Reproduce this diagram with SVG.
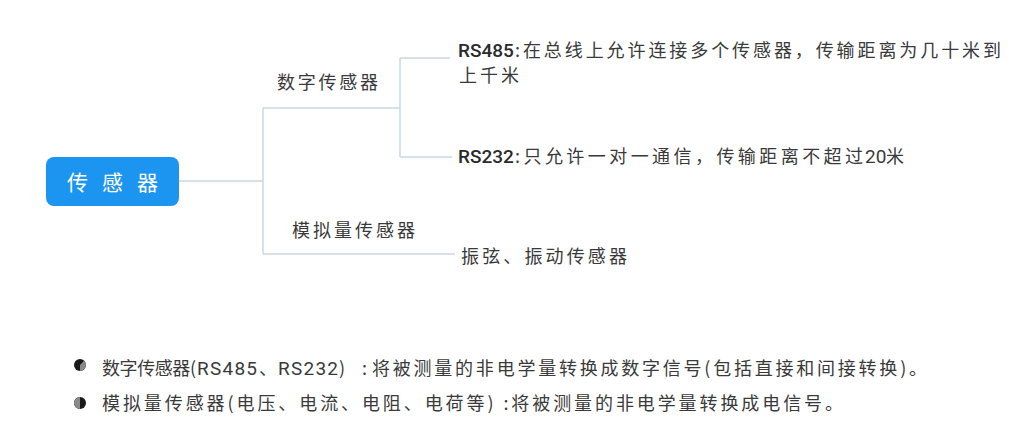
<svg xmlns="http://www.w3.org/2000/svg" width="1024" height="440" viewBox="0 0 1024 440">
<style>
.cn{font-family:"Noto Sans CJK SC","Liberation Sans",sans-serif;fill:#3a3a3a;font-size:18px;}
.lat{font-family:Roboto,"Liberation Sans","Noto Sans CJK SC",sans-serif;fill:#2a2a2a;font-weight:500;font-size:19px;}
.latn{font-family:Roboto,"Liberation Sans","Noto Sans CJK SC",sans-serif;fill:#3a3a3a;font-size:19px;}
.conn{fill:none;stroke:#c9d7e2;stroke-width:1.5;}
</style>
<rect x="0" y="0" width="1024" height="440" fill="#ffffff"/>
<g id="connectors">
<path class="conn" d="M179,181 H263"/>
<path class="conn" d="M263,108 V254"/>
<path class="conn" d="M263,108 H400"/>
<path class="conn" d="M400,58 V157"/>
<path class="conn" d="M400,58 H450"/>
<path class="conn" d="M400,157 H452"/>
<path class="conn" d="M263,254 H455"/>
</g>
<g id="root">
<rect x="46" y="157" width="133" height="49" rx="8" fill="#1c95f0"/>
<text x="67" y="190" font-family="'Noto Sans CJK SC',sans-serif" font-size="21" fill="#ffffff" textLength="91" lengthAdjust="spacing">传感器</text>
</g>
<g id="digital">
<text class="cn" x="277" y="89" textLength="101" lengthAdjust="spacing">数字传感器</text>
</g>
<g id="rs485">
<text class="lat" x="458" y="57">RS485</text>
<text class="cn" x="515" y="57" textLength="486" lengthAdjust="spacing">:在总线上允许连接多个传感器，传输距离为几十米到</text>
<text class="cn" x="459" y="82" textLength="60" lengthAdjust="spacing">上千米</text>
</g>
<g id="rs232">
<text class="lat" x="458" y="163">RS232</text>
<text class="cn" x="515" y="163" textLength="348" lengthAdjust="spacing">:只允许一对一通信，传输距离不超过</text>
<text class="latn" x="865" y="163">20</text>
<text class="cn" x="886" y="163">米</text>
</g>
<g id="analog">
<text class="cn" x="292" y="237" textLength="123" lengthAdjust="spacing">模拟量传感器</text>
</g>
<g id="vibration">
<text class="cn" x="461" y="263" textLength="166" lengthAdjust="spacing">振弦、振动传感器</text>
</g>
<g id="notes">
<circle cx="80" cy="365" r="6" fill="#1a1a1a"/>
<path d="M80,365 L84.2,360.8 A6,6 0 0 1 80,371 Z" fill="#8a8a8a"/>
<circle cx="80" cy="403" r="6" fill="#1a1a1a"/>
<path d="M80,397 A6,6 0 0 0 80,409 Z" fill="#8a8a8a"/>
<text class="cn" x="102" y="375" textLength="94" lengthAdjust="spacing">数字传感器(</text>
<text class="latn" x="197" y="375" textLength="60" lengthAdjust="spacing">RS485</text>
<text class="cn" x="259" y="375">、</text>
<text class="latn" x="278" y="375" textLength="60" lengthAdjust="spacing">RS232</text>
<text class="cn" x="339" y="375">)</text>
<text class="cn" x="362" y="375">:</text>
<text class="cn" x="372" y="375" textLength="555" lengthAdjust="spacing">将被测量的非电学量转换成数字信号(包括直接和间接转换)。</text>
<text class="cn" x="102" y="410" textLength="741" lengthAdjust="spacing">模拟量传感器(电压、电流、电阻、电荷等) :将被测量的非电学量转换成电信号。</text>
</g>
</svg>
